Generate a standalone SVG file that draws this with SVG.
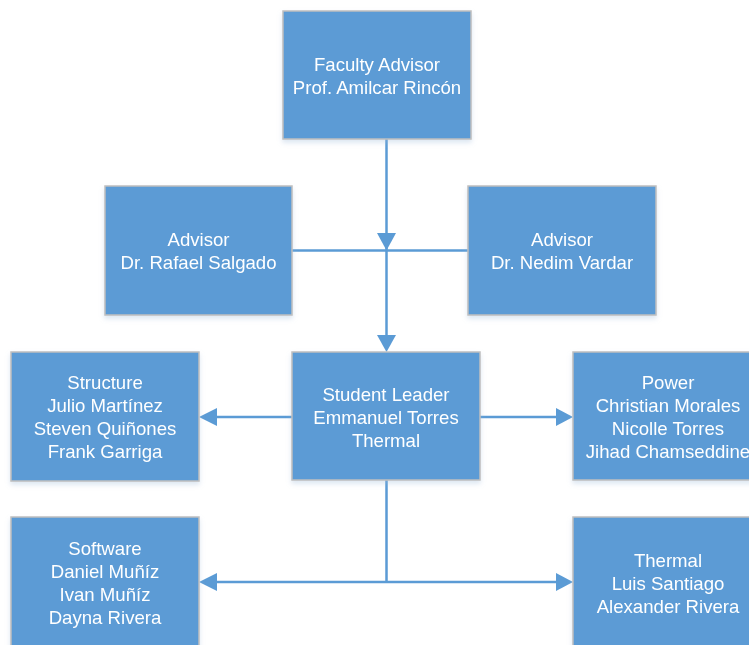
<svg xmlns="http://www.w3.org/2000/svg" width="749" height="645" viewBox="0 0 749 645">
<style>
.box{fill:#5b9bd5;stroke:#bfbfbf;stroke-width:1.5}
.t{font-family:"Liberation Sans",Arial,sans-serif;font-size:18.6px;fill:#ffffff;text-anchor:middle}
.c{stroke:#5b9bd5;stroke-width:2.5;fill:none}
.h{fill:#5b9bd5}
</style>
<defs>
<filter id="sh" x="-10%" y="-10%" width="120%" height="125%">
<feDropShadow dx="0" dy="3" stdDeviation="2.5" flood-color="#9bb8d8" flood-opacity="0.35"/>
</filter>
</defs>
<g id="connectors">
<path class="c" d="M386.5,139 V335"/>
<path class="c" d="M292,250.5 H469"/>
<polygon class="h" points="377,233 396,233 386.5,250.5"/>
<polygon class="h" points="377,335 396,335 386.5,352"/>
<path class="c" d="M292,417 H216"/>
<polygon class="h" points="217,408 217,426 199,417"/>
<path class="c" d="M480,417 H556"/>
<polygon class="h" points="556,408 556,426 573,417"/>
<path class="c" d="M386.5,480 V582 M216,582 H556"/>
<polygon class="h" points="217,573 217,591 199,582"/>
<polygon class="h" points="556,573 556,591 573,582"/>
</g>
<g id="faculty" filter="url(#sh)">
<rect class="box" x="283" y="11" width="188" height="128"/>
<text class="t" x="377" y="71">Faculty Advisor</text>
<text class="t" x="377" y="94">Prof. Amilcar Rincón</text>
</g>
<g id="advisor-salgado" filter="url(#sh)">
<rect class="box" x="105" y="186" width="187" height="129"/>
<text class="t" x="198.5" y="246">Advisor</text>
<text class="t" x="198.5" y="269">Dr. Rafael Salgado</text>
</g>
<g id="advisor-vardar" filter="url(#sh)">
<rect class="box" x="468" y="186" width="188" height="129"/>
<text class="t" x="562" y="246">Advisor</text>
<text class="t" x="562" y="269">Dr. Nedim Vardar</text>
</g>
<g id="leader" filter="url(#sh)">
<rect class="box" x="292" y="352" width="188" height="128"/>
<text class="t" x="386" y="401">Student Leader</text>
<text class="t" x="386" y="424">Emmanuel Torres</text>
<text class="t" x="386" y="447">Thermal</text>
</g>
<g id="structure" filter="url(#sh)">
<rect class="box" x="11" y="352" width="188" height="129"/>
<text class="t" x="105" y="389">Structure</text>
<text class="t" x="105" y="412">Julio Martínez</text>
<text class="t" x="105" y="435">Steven Quiñones</text>
<text class="t" x="105" y="458">Frank Garriga</text>
</g>
<g id="power" filter="url(#sh)">
<rect class="box" x="573" y="352" width="190" height="128"/>
<text class="t" x="668" y="389">Power</text>
<text class="t" x="668" y="412">Christian Morales</text>
<text class="t" x="668" y="435">Nicolle Torres</text>
<text class="t" x="668" y="458">Jihad Chamseddine</text>
</g>
<g id="software" filter="url(#sh)">
<rect class="box" x="11" y="517" width="188" height="140"/>
<text class="t" x="105" y="555">Software</text>
<text class="t" x="105" y="578">Daniel Muñíz</text>
<text class="t" x="105" y="601">Ivan Muñíz</text>
<text class="t" x="105" y="624">Dayna Rivera</text>
</g>
<g id="thermal" filter="url(#sh)">
<rect class="box" x="573" y="517" width="190" height="140"/>
<text class="t" x="668" y="567">Thermal</text>
<text class="t" x="668" y="590">Luis Santiago</text>
<text class="t" x="668" y="613">Alexander Rivera</text>
</g>
</svg>
